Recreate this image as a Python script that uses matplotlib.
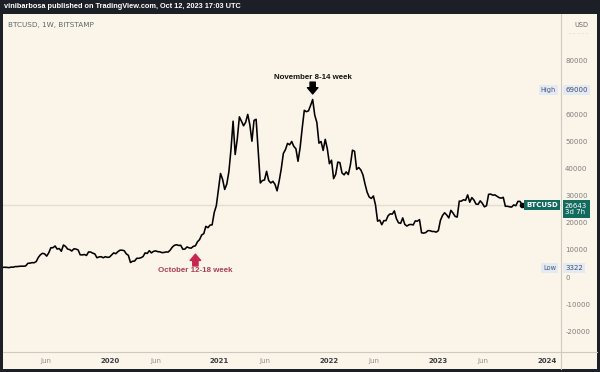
import matplotlib.pyplot as plt
import matplotlib.transforms as mtransforms
from matplotlib.lines import Line2D
from matplotlib.patches import Rectangle
import numpy as np
import pandas as pd

# weekly closes (USD), week starting Mondays from 2018-12-31
close2019 = [4000, 3550, 3600, 3550, 3450, 3650, 3620, 3850, 3850, 3950, 4000, 3980, 4100,
             5050, 5100, 5300, 5250, 5700, 7200, 8200, 8750, 8550, 7700, 8950, 10800, 10800,
             11450, 10300, 10500, 9500, 11800, 11300, 10300, 10100, 9600, 10400, 10300, 10000,
             8200, 8150, 8300, 7950, 9250, 9200, 8800, 8500, 7100, 7400, 7500, 7100, 7500, 7250, 7350]
close2020 = [8100, 8900, 8600, 9350, 9900, 9900, 9700, 8550, 8000, 5350, 5800, 5900, 6900,
             6900, 7100, 7550, 8900, 8700, 9700, 8900, 9450, 9650, 9350, 9300, 9000, 9050,
             9250, 9200, 9950, 11050, 11700, 11900, 11650, 11700, 10250, 10300, 11100, 10750,
             10650, 11300, 11500, 13000, 13800, 15500, 16000, 18700, 18200, 19150, 19250,
             23800, 26300, 32200]
close2021 = [38200, 36000, 32300, 34300, 38900, 47100, 57500, 45200, 50900, 59100, 57500,
             55800, 57100, 60000, 56200, 50100, 57800, 58200, 46400, 34700, 35600, 35800,
             39000, 35600, 34700, 35300, 34200, 31800, 35400, 39900, 45600, 47000, 49300,
             48800, 50000, 48200, 47300, 42700, 47700, 54900, 61500, 61000, 61300, 63300,
             65500, 59700, 57000, 49400, 50000, 46700, 50800, 47300]
close2022 = [41800, 43100, 36300, 37900, 42400, 42200, 38400, 37700, 38800, 37800, 41300,
             46800, 46400, 39700, 40400, 39500, 37700, 34300, 31300, 29500, 29000, 29900,
             26600, 20600, 21000, 19300, 20800, 20800, 22600, 23300, 23200, 24400, 21500,
             20000, 19800, 21800, 19400, 18800, 19300, 19400, 19200, 20700, 20600, 21200,
             16300, 16200, 16400, 17100, 17100, 16800, 16800, 16550]
close2023 = [17100, 20900, 22700, 23700, 22900, 21800, 24600, 23600, 22400, 22100, 28000,
             28000, 28500, 28300, 30300, 27600, 29300, 28400, 26900, 26800, 28100, 27200,
             25900, 26300, 30500, 30600, 30200, 30300, 29800, 29300, 29100, 29400, 26100,
             26100, 25900, 25800, 26600, 26300, 27900, 27900, 26643]

close = np.array(close2019 + close2020 + close2021 + close2022 + close2023)
weeks = pd.date_range('2018-12-31', periods=len(close), freq='7D')

high_price = 69000
low_price = 3322
last_price = close[-1]
oct_week = pd.Timestamp('2020-10-12')
nov_week = pd.Timestamp('2021-11-08')

xtick_dates = pd.to_datetime(['2019-06-01', '2020-01-01', '2020-06-01', '2021-01-01', '2021-06-01',
                              '2022-01-01', '2022-06-01', '2023-01-01', '2023-06-01', '2024-01-01'])
xtick_labels = ['Jun', '2020', 'Jun', '2021', 'Jun', '2022', 'Jun', '2023', 'Jun', '2024']
# 70000 sits under the High tag, so it is left out
ytick_vals = [-20000, -10000, 0, 10000, 20000, 30000, 40000, 50000, 60000, 80000]

cream = '#FBF4E9'
dark = '#1C1F26'
teal = '#136B5F'
tagblue = '#E3EAF3'
W, H = 600., 372.

fig = plt.figure(figsize=(6, 3.72), dpi=100, facecolor=dark)
fig.patches.append(Rectangle((3/W, 3/H), 594/W, 355/H, transform=fig.transFigure,
                             facecolor=cream, edgecolor='none', zorder=-1))
ax = fig.add_axes([3/W, 20/H, 558/W, 338/H])
ax.set_facecolor(cream)
ax.set_zorder(1)

ax.axhline(last_price, color='#E4DED2', lw=1.0, zorder=1)
ax.plot(weeks, close, color='black', lw=1.15, zorder=3)
ax.plot(weeks[-1], close[-1], 'o', color='black', ms=3, zorder=4)

ax.set_xlim(pd.Timestamp('2019-01-08'), pd.Timestamp('2024-02-16'))
ax.set_ylim(-27675, 97050)
for s in ax.spines.values():
    s.set_visible(False)

ax.set_xticks(xtick_dates)
ax.set_xticklabels(xtick_labels)
ax.tick_params(axis='x', length=0, pad=4, labelsize=5)
for lab in ax.get_xticklabels():
    if lab.get_text() == 'Jun':
        lab.set_color('#8F8F8F')
    else:
        lab.set_color('#3A3D42')
        lab.set_fontweight('bold')

ax.yaxis.tick_right()
ax.set_yticks(ytick_vals)
ax.set_yticklabels([str(v) for v in ytick_vals])
ax.tick_params(axis='y', length=0, pad=3, labelsize=5, labelcolor='#7E7E7E')

# frame lines
fig.add_artist(Line2D([561/W, 561/W], [3/H, 358/H], color='#CFCAC1', lw=0.8, zorder=2))
fig.add_artist(Line2D([3/W, 597/W], [20/H, 20/H], color='#CFCAC1', lw=0.8, zorder=2))

# header
fig.text(4/W, 1 - 7/H, 'vinibarbosa published on TradingView.com, Oct 12, 2023 17:03 UTC',
         color='white', fontsize=5.3, fontweight='bold', family='Liberation Sans',
         va='center', ha='left')
fig.text(8/W, 1 - 25/H, 'BTCUSD, 1W, BITSTAMP', color='#586B68', fontsize=5.2,
         va='center', ha='left')
fig.text(574/W, 1 - 25/H, 'USD', color='#6A6A6A', fontsize=4.8, va='center', ha='left')

# annotations
oct_price = close[weeks == oct_week][0]
nov_price = close[weeks == nov_week][0]
ax.annotate('', xy=(oct_week, oct_price), xytext=(0, -14.5), textcoords='offset points',
            arrowprops=dict(arrowstyle='simple,head_length=0.45,head_width=0.75,tail_width=0.38',
                            color='#C72650', shrinkA=0, shrinkB=6, mutation_scale=10))
ax.annotate('October 12-18 week', xy=(oct_week, oct_price), xytext=(0, -18),
            textcoords='offset points', ha='center', va='center', fontsize=5.7,
            fontweight='bold', family='Liberation Sans', color='#A9405A')
ax.annotate('', xy=(nov_week, nov_price), xytext=(0, 12.5), textcoords='offset points',
            arrowprops=dict(arrowstyle='simple,head_length=0.45,head_width=0.75,tail_width=0.38',
                            color='black', shrinkA=0, shrinkB=4, mutation_scale=10))
ax.annotate('November 8-14 week', xy=(nov_week, nov_price), xytext=(0, 16),
            textcoords='offset points', ha='center', va='center', fontsize=5.7,
            fontweight='bold', family='Liberation Sans', color='#111111')

# price-axis tags
ytr = mtransforms.blended_transform_factory(fig.transFigure, ax.transData)
fig.text(588/W, 90000, '- - - - -', transform=ytr, color='#C8C4BC', fontsize=4.5,
         va='center', ha='right', zorder=5)
fig.text(556/W, high_price, 'High', transform=ytr, color='#4A5876', fontsize=4.8,
         va='center', ha='right', zorder=5,
         bbox=dict(boxstyle='square,pad=0.3', fc=tagblue, ec='none'))
fig.text(565/W, high_price, str(high_price), transform=ytr, color='#3E4C66', fontsize=5,
         va='center', ha='left', zorder=5,
         bbox=dict(boxstyle='square,pad=0.3', fc=tagblue, ec='none'))
fig.text(556/W, low_price, 'Low', transform=ytr, color='#4A5876', fontsize=4.8,
         va='center', ha='right', zorder=5,
         bbox=dict(boxstyle='square,pad=0.3', fc=tagblue, ec='none'))
fig.text(565/W, low_price, str(low_price), transform=ytr, color='#3E4C66', fontsize=5,
         va='center', ha='left', zorder=5,
         bbox=dict(boxstyle='square,pad=0.3', fc=tagblue, ec='none'))
fig.text(558/W, last_price, 'BTCUSD', transform=ytr, color='white', fontsize=5,
         fontweight='bold', va='center', ha='right', zorder=5,
         bbox=dict(boxstyle='square,pad=0.3', fc=teal, ec='none'))
fig.text(565/W, last_price + 800, '%d\n3d 7h' % last_price, transform=ytr, color='white',
         fontsize=5, va='top', ha='left', linespacing=1.1, zorder=5,
         bbox=dict(boxstyle='square,pad=0.35', fc=teal, ec='none'))

fig.savefig('out.png', dpi=100, facecolor=dark)
